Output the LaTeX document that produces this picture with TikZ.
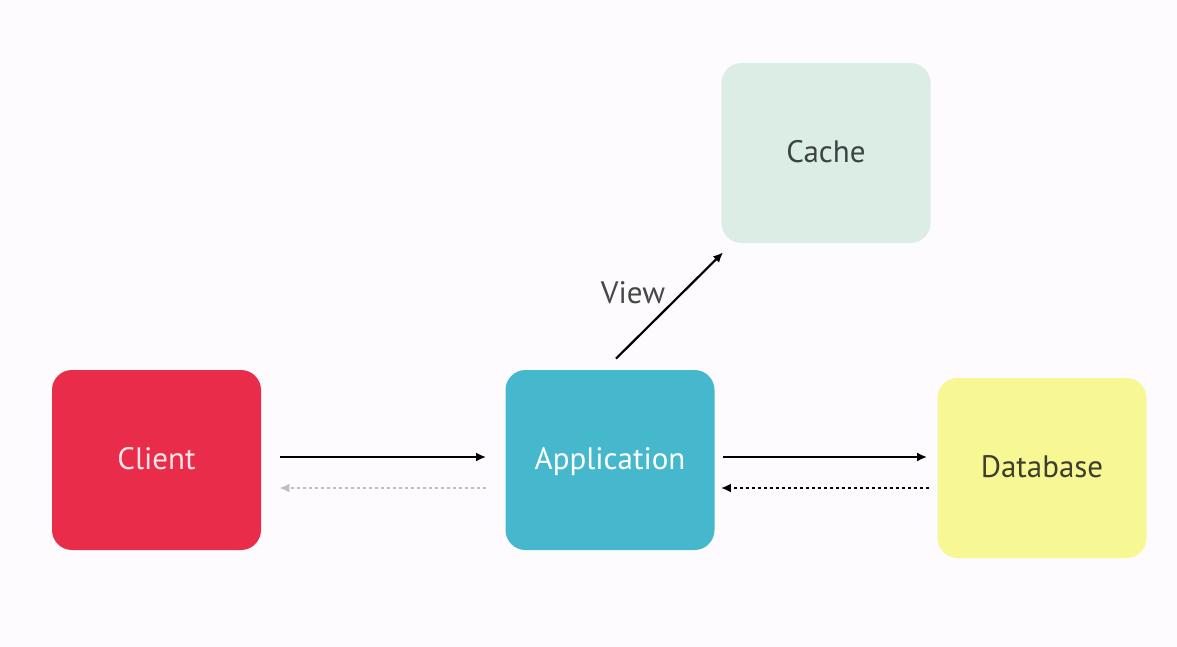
\documentclass[tikz,border=0pt]{standalone}
\usepackage{fontspec}
\setmainfont{PT Sans}
\usepackage{tikz}
\usetikzlibrary{positioning, arrows, arrows.meta}
\definecolor{fond}{RGB}{253,251,253}
\definecolor{rouge}{RGB}{233,44,74}
\definecolor{bleu}{RGB}{69,184,205}
\definecolor{vert}{RGB}{220,237,230}
\definecolor{jaune}{RGB}{247,247,148}
\definecolor{texterouge}{RGB}{252,228,232}
\definecolor{textevert}{RGB}{60,68,66}
\definecolor{textejaune}{RGB}{62,62,44}
\definecolor{gris}{RGB}{190,190,190}

\begin{document}
\begin{tikzpicture}[x=0.5pt, y=-0.5pt]

 	\tikzstyle{bloc}=[rectangle, rounded corners=10pt, minimum width=104.5pt, minimum height=90pt, text height=1.85ex, text depth=0pt, font=\fontsize{15.5}{18}\selectfont]
 	\tikzstyle{client}=[bloc, fill=rouge, text=texterouge]
 	\tikzstyle{appli}=[bloc, fill=bleu, text=white]
 	\tikzstyle{cache}=[bloc, fill=vert, text=textevert]
 	\tikzstyle{base}=[bloc, fill=jaune, text=textejaune]
 	\tikzstyle{value}=[text=black!72, font=\fontsize{15.5}{18}\selectfont]
 	\tikzstyle{arc}=[-{Latex[length=5pt,width=4.5pt]}, line width=1.1pt, black]
 	\tikzstyle{arc2}=[-{Latex[length=5pt,width=4.5pt]}, line width=1.1pt, dash pattern=on 1.6pt off 1.4pt, black]

 	% fond
 	\fill[fond] (0,0) rectangle (1177,647);
 	\useasboundingbox (0,0) rectangle (1177,647);

 	% placement des noeuds
 	\node[client] (cl) at (156.5,460) {Client};
 	\node[appli] (app) at (610,460) {Application};
 	\node[cache] (ca) at (826,153) {Cache};
 	\node[base] (db) at (1042,468) {Database};

 	\draw[arc, shorten <=9.5pt, shorten >=9.5pt] ([yshift=1.5pt]cl.east) -- ([yshift=1.5pt]cl.east -| app.west);
 	\draw[arc2, gris, shorten <=9.5pt, shorten >=9pt] ([yshift=-14pt]cl.east -| app.west) -- ([yshift=-14pt]cl.east);
 	\draw[arc, shorten <=4pt, shorten >=5pt] ([yshift=1.5pt]app.east) -- ([yshift=1.5pt]app.east -| db.west);
 	\draw[arc2, shorten <=4pt, shorten >=3pt] ([yshift=-14pt]app.east -| db.west) -- ([yshift=-14pt]app.east);
 	\draw[arc] ([xshift=3pt,yshift=5.5pt]app.north) -- ([xshift=1pt,yshift=-4.5pt]ca.south west);
 	\node[value] (view) at (633,293) {View};

\end{tikzpicture}
\end{document}
